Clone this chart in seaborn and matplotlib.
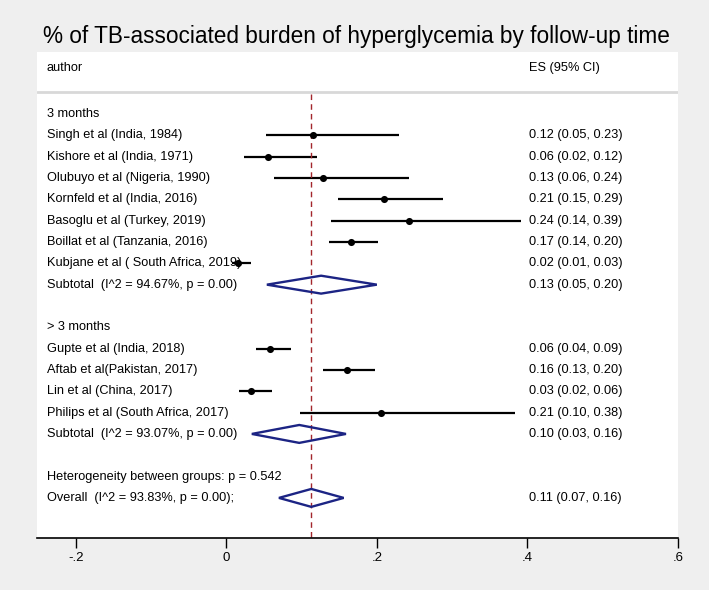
import matplotlib
matplotlib.use('Agg')
import matplotlib.pyplot as plt
import matplotlib.transforms as mtransforms
import seaborn as sns
import pandas as pd

# Study data
group1_authors = ['Singh et al (India, 1984)', 'Kishore et al (India, 1971)',
                  'Olubuyo et al (Nigeria, 1990)', 'Kornfeld et al (India, 2016)',
                  'Basoglu et al (Turkey, 2019)', 'Boillat et al (Tanzania, 2016)',
                  'Kubjane et al ( South Africa, 2019)']
group1_es = [0.115, 0.055, 0.129, 0.209, 0.243, 0.166, 0.015]
group1_lo = [0.053, 0.023, 0.063, 0.148, 0.139, 0.137, 0.008]
group1_hi = [0.229, 0.121, 0.243, 0.288, 0.392, 0.201, 0.033]
group1_text = ['0.12 (0.05, 0.23)', '0.06 (0.02, 0.12)', '0.13 (0.06, 0.24)',
               '0.21 (0.15, 0.29)', '0.24 (0.14, 0.39)', '0.17 (0.14, 0.20)',
               '0.02 (0.01, 0.03)']
group1_sub = [0.126, 0.054, 0.200]

group2_authors = ['Gupte et al (India, 2018)', 'Aftab et al(Pakistan, 2017)',
                  'Lin et al (China, 2017)', 'Philips et al (South Africa, 2017)']
group2_es = [0.058, 0.160, 0.033, 0.206]
group2_lo = [0.039, 0.128, 0.017, 0.098]
group2_hi = [0.086, 0.198, 0.061, 0.383]
group2_text = ['0.06 (0.04, 0.09)', '0.16 (0.13, 0.20)', '0.03 (0.02, 0.06)',
               '0.21 (0.10, 0.38)']
group2_sub = [0.097, 0.034, 0.159]

overall = [0.113, 0.070, 0.156]
xticks = [-0.2, 0, 0.2, 0.4, 0.6]
xtick_labels = ['-.2', '0', '.2', '.4', '.6']

sns.set_style('white')
plt.rcParams['font.family'] = ['Liberation Sans', 'DejaVu Sans']
plt.rcParams['text.color'] = 'black'
plt.rcParams['xtick.color'] = 'black'

studies = pd.DataFrame({
    'author': group1_authors + group2_authors,
    'es': group1_es + group2_es,
    'lo': group1_lo + group2_lo,
    'hi': group1_hi + group2_hi,
    'text': group1_text + group2_text,
    'row': list(range(1, 8)) + list(range(11, 15)),
})

fig = plt.figure(figsize=(7.09, 5.90), dpi=100, facecolor='#efefef')
ax = fig.add_axes([37 / 709, 1 - 538 / 590, 641 / 709, 486 / 590])
ax.set_facecolor('white')

# CI lines and point estimates
ax.hlines(studies['row'], studies['lo'], studies['hi'], color='black', lw=1.6)
sns.scatterplot(data=studies, x='es', y='row', ax=ax, color='black',
                marker='o', s=26, edgecolor='black', linewidth=0, zorder=3)

# diamonds for subtotals / overall
def diamond(vals, row):
    es, lo, hi = vals
    h = 0.42
    ax.fill([lo, es, hi, es, lo], [row, row - h, row, row + h, row],
            facecolor='none', edgecolor='#1c2484', lw=1.7, zorder=3)

diamond(group1_sub, 8)
diamond(group2_sub, 15)
diamond(overall, 18)

ax.vlines(overall[0], -0.95, 19.88, color='#a3262c', lw=1, linestyles=(0, (4, 3)))
ax.axhline(-1.03, color='#d8d8d8', lw=2)

trans = mtransforms.blended_transform_factory(ax.transAxes, ax.transData)
fs = 9.2
lx, rx = 0.0156, 0.7675
ax.text(lx, -2.14, 'author', transform=trans, fontsize=fs, va='center')
ax.text(rx, -2.14, 'ES (95% CI)', transform=trans, fontsize=fs, va='center')
ax.text(lx, 0, '3 months', transform=trans, fontsize=fs, va='center')
ax.text(lx, 10, '> 3 months', transform=trans, fontsize=fs, va='center')
for _, r in studies.iterrows():
    ax.text(lx, r['row'], r['author'], transform=trans, fontsize=fs, va='center')
    ax.text(rx, r['row'], r['text'], transform=trans, fontsize=fs, va='center')
ax.text(lx, 8, 'Subtotal  (I^2 = 94.67%, p = 0.00)', transform=trans, fontsize=fs, va='center')
ax.text(rx, 8, '0.13 (0.05, 0.20)', transform=trans, fontsize=fs, va='center')
ax.text(lx, 15, 'Subtotal  (I^2 = 93.07%, p = 0.00)', transform=trans, fontsize=fs, va='center')
ax.text(rx, 15, '0.10 (0.03, 0.16)', transform=trans, fontsize=fs, va='center')
ax.text(lx, 17, 'Heterogeneity between groups: p = 0.542', transform=trans, fontsize=fs, va='center')
ax.text(lx, 18, 'Overall  (I^2 = 93.83%, p = 0.00);', transform=trans, fontsize=fs, va='center')
ax.text(rx, 18, '0.11 (0.07, 0.16)', transform=trans, fontsize=fs, va='center')

ax.set_xlim(-0.2513, 0.6)
ax.set_ylim(19.88, -2.91)
ax.set_yticks([])
ax.set_xticks(xticks)
ax.set_xticklabels(xtick_labels, fontsize=9.5)
ax.set_xlabel('')
ax.set_ylabel('')
ax.tick_params(axis='x', direction='out', length=7, width=1, color='black', pad=3, bottom=True)
for s in ['top', 'left', 'right']:
    ax.spines[s].set_visible(False)
ax.spines['bottom'].set_color('black')
ax.spines['bottom'].set_linewidth(1.2)

fig.text(0.503, 1 - 36 / 590, '% of TB-associated burden of hyperglycemia by follow-up time',
         ha='center', va='center', fontsize=16.3)

fig.savefig('out.png', dpi=100, facecolor=fig.get_facecolor())
